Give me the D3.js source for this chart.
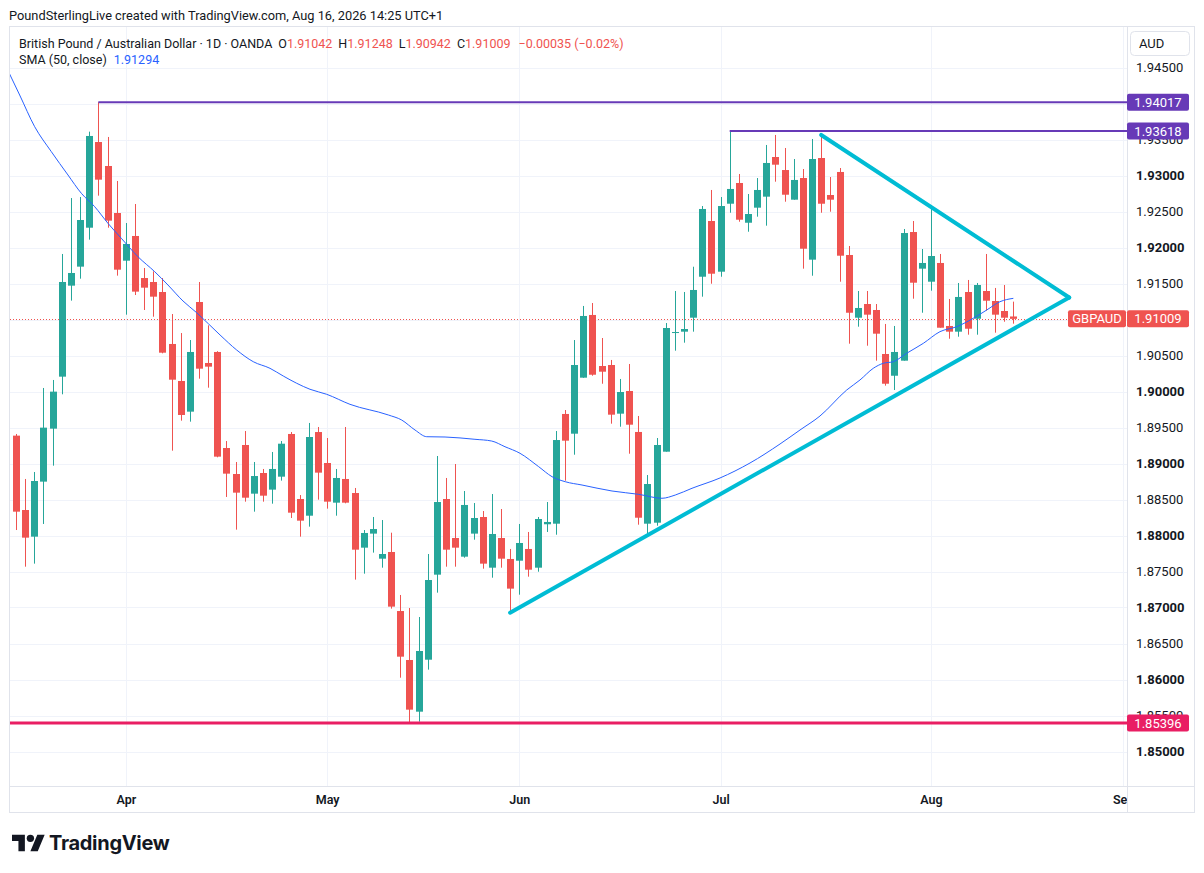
<!DOCTYPE html>
<html><head><meta charset="utf-8">
<script src="https://cdn.jsdelivr.net/npm/d3@7"></script>
<style>
html,body{margin:0;padding:0;background:#fff;}
svg{display:block;font-family:Roboto,"Noto Sans",sans-serif;}
</style></head><body>
<svg id="chart" width="1204" height="873"></svg>
<script>
// ---------- DATA ----------
const opens = [1.89387,1.88354,1.87984,1.88748,1.89484,1.90206,1.91470,1.91734,1.92275,1.93465,
1.93132,1.92479,1.91817,1.92160,1.91576,1.91521,1.91382,1.90660,1.90146,1.89720,
1.91243,1.90396,1.90549,1.89215,1.88854,1.89257,1.88581,1.88868,1.88637,1.88817,
1.89410,1.88507,1.88275,1.89437,1.89007,1.88456,1.88785,1.88590,1.87831,1.88026,
1.87678,1.87771,1.86951,1.86271,1.85553,1.86275,1.87456,1.88507,1.87965,1.87706,
1.88026,1.88257,1.87553,1.87965,1.87674,1.87650,1.87813,1.87553,1.88156,1.88164,
1.89688,1.89414,1.90192,1.91063,1.90354,1.90368,1.89692,1.90007,1.89438,1.88164,
1.88178,1.89164,1.90817,1.90831,1.91025,1.91594,1.92368,1.91664,1.92608,1.92896,
1.92344,1.92553,1.92706,1.93257,1.93076,1.92664,1.92965,1.91831,1.93243,1.92729,
1.93049,1.91896,1.91025,1.91215,1.91132,1.90521,1.90219,1.90428,1.92215,1.91706,
1.91525,1.91785,1.90910,1.90831,1.91382,1.91011,1.91396,1.91257,1.91118,1.91042];
const highs = [1.89410,1.88785,1.88882,1.90049,1.90160,1.91910,1.92687,1.92701,1.93609,1.94017,
1.93535,1.92924,1.92340,1.92604,1.91715,1.91669,1.91576,1.91076,1.90812,1.90715,
1.91521,1.90919,1.90560,1.89312,1.89021,1.89451,1.89021,1.88924,1.89160,1.89312,
1.89437,1.88562,1.89563,1.89507,1.89354,1.88924,1.89507,1.88660,1.88076,1.88257,
1.88215,1.88039,1.87174,1.86993,1.86868,1.87743,1.89104,1.88799,1.88993,1.88618,
1.88451,1.88340,1.88576,1.88368,1.87813,1.88160,1.88049,1.88257,1.88465,1.89451,
1.89743,1.90715,1.91188,1.91229,1.90743,1.90438,1.90174,1.90382,1.89660,1.88840,
1.89354,1.90951,1.91396,1.91382,1.91733,1.92576,1.92799,1.92701,1.93618,1.93021,
1.92743,1.92965,1.93424,1.93563,1.93382,1.93229,1.93090,1.93507,1.93563,1.92979,
1.93104,1.92021,1.91396,1.91396,1.91215,1.90938,1.90910,1.92257,1.92368,1.91979,
1.92590,1.91910,1.91285,1.91507,1.91549,1.91507,1.91910,1.91438,1.91479,1.91248];
const lows = [1.88076,1.87567,1.87609,1.88160,1.88970,1.89961,1.91262,1.91567,1.92109,1.92720,
1.92275,1.91609,1.91067,1.91340,1.91132,1.91039,1.90530,1.89178,1.89595,1.89581,
1.90178,1.90053,1.89086,1.88535,1.88081,1.88470,1.88331,1.88470,1.88442,1.88762,
1.88243,1.87984,1.88123,1.88498,1.88373,1.88275,1.88447,1.87387,1.87470,1.87762,
1.87553,1.86984,1.86025,1.85396,1.85414,1.86137,1.87206,1.87567,1.87567,1.87692,
1.87942,1.87539,1.87414,1.87553,1.86928,1.87178,1.87428,1.87497,1.88049,1.88011,
1.88761,1.89122,1.90190,1.90219,1.90108,1.89553,1.89511,1.89136,1.88150,1.88007,
1.88136,1.89164,1.90567,1.90678,1.90831,1.91317,1.91497,1.91594,1.92483,1.92358,
1.92219,1.92428,1.92303,1.92914,1.92636,1.92664,1.91706,1.91608,1.92483,1.92497,
1.91525,1.90664,1.90900,1.90636,1.90428,1.90081,1.90021,1.90428,1.91289,1.91094,
1.91400,1.90886,1.90733,1.90761,1.90789,1.90789,1.91122,1.90817,1.90969,1.90942];
const closes = [1.88331,1.87970,1.88757,1.89498,1.89998,1.91521,1.91646,1.92382,1.93549,1.92942,
1.92373,1.91692,1.92049,1.91387,1.91442,1.91317,1.90539,1.90164,1.89674,1.90549,
1.90317,1.90345,1.89095,1.88859,1.88595,1.88525,1.88826,1.88553,1.88924,1.89275,
1.88317,1.88206,1.89368,1.88873,1.88470,1.88799,1.88456,1.87803,1.88035,1.88090,
1.87743,1.87012,1.86317,1.85581,1.86396,1.87382,1.88465,1.87803,1.87831,1.88424,
1.88243,1.87609,1.88021,1.87678,1.87262,1.87896,1.87525,1.88229,1.88188,1.89326,
1.89317,1.90368,1.91049,1.90233,1.90275,1.89678,1.89993,1.89539,1.88247,1.88715,
1.89257,1.90882,1.90826,1.90868,1.91410,1.92535,1.91636,1.92576,1.92813,1.92386,
1.92465,1.92799,1.93174,1.93150,1.92733,1.92938,1.91983,1.93229,1.92608,1.92664,
1.91886,1.91094,1.91160,1.91067,1.90803,1.90108,1.90549,1.92201,1.91511,1.91785,
1.91882,1.90886,1.90831,1.91313,1.90872,1.91479,1.91261,1.91067,1.91025,1.91009];

// SMA(50, close) at bar positions
const smaBars = [-0.7,0.4,2.04,3.86,5.68,7.14,8.6,10.05,11.51,13.33,15.16,16.61,18.25,19.75,22.3,24.12,25.93,27.76,29.21,30.68,32.13,33.96,36.5,40.69,42.15,43.61,44.89,46.89,50.16,51.99,53.44,55.08,57.12,58.58,60.03,61.86,65.14,68.05,70.6,72.05,73.88,76.94,80.22,83.5,85.68,87.87,90.79,92.24,93.69,94.79,95.88,97.34,99.16,100.98,102.81,104.62,106.09,107.54,109];
const smaValues = [1.94410,1.94118,1.93678,1.93331,1.93007,1.92753,1.92567,1.92336,1.92128,1.91872,1.91664,1.91479,1.91257,1.91094,1.90785,1.90576,1.90414,1.90322,1.90215,1.90114,1.90031,1.89961,1.89822,1.89674,1.89604,1.89465,1.89372,1.89368,1.89336,1.89312,1.89233,1.89142,1.88956,1.88817,1.88747,1.88701,1.88618,1.88572,1.88517,1.88562,1.88656,1.88799,1.89007,1.89271,1.89465,1.89660,1.90021,1.90160,1.90322,1.90392,1.90414,1.90531,1.90669,1.90831,1.90900,1.91017,1.91132,1.91247,1.91294];

const monthTickBars = [12,34,55,77,100,121];
const monthTickLabels = ["Apr","May","Jun","Jul","Aug","Sep"];
const priceTicks = [1.850,1.855,1.860,1.865,1.870,1.875,1.880,1.885,1.890,1.895,1.900,1.905,1.910,1.915,1.920,1.925,1.930,1.935,1.940,1.945];

const hLevels = [ // horizontal lines: [startBar, price]
  {bar:9, price:1.94017, color:"#673ab7", width:2},
  {bar:78, price:1.93618, color:"#673ab7", width:2},
  {bar:-1, price:1.85396, color:"#e91e63", width:3}
];
const triUpper = [[88,1.93563],[115.1,1.91305]];
const triLower = [[54,1.86928],[115.1,1.91305]];
const lastClose = 1.91009;
const priceChange = -0.00035;
const pctChange = -0.02;
const smaLast = 1.91294;

// ---------- LAYOUT ----------
const L=10, R=1127, T=27, B=786, FR=1194, FB=812;
const up="#26a69a", dn="#ef5350", txt="#131722";
const svg = d3.select("#chart");
const x = d3.scaleLinear().domain([0,109]).range([16, 16+109*9.15]);
const y = d3.scaleLinear().domain([1.85,1.945]).range([751.5,67.5]);

const defs = svg.append("defs");
defs.append("clipPath").attr("id","plot").append("rect").attr("x",L).attr("y",T).attr("width",R-L).attr("height",B-T);
defs.append("clipPath").attr("id","taxis").append("rect").attr("x",L).attr("y",B).attr("width",R-L).attr("height",FB-B);

// header
svg.append("text").attr("x",9).attr("y",20).attr("font-size",12.8).attr("fill",txt)
  .text("PoundSterlingLive created with TradingView.com, Aug 16, 2026 14:25 UTC+1");

// grid
const grid = svg.append("g").attr("clip-path","url(#plot)");
grid.selectAll("line.h").data(priceTicks).join("line").attr("class","h")
  .attr("x1",L).attr("x2",R).attr("y1",d=>Math.round(y(d))+0.5).attr("y2",d=>Math.round(y(d))+0.5)
  .attr("stroke","#f0f3fa").attr("stroke-width",1);
grid.selectAll("line.v").data(monthTickBars).join("line").attr("class","v")
  .attr("y1",T).attr("y2",B).attr("x1",d=>Math.round(x(d))+0.5).attr("x2",d=>Math.round(x(d))+0.5)
  .attr("stroke","#f0f3fa").attr("stroke-width",1);

// frame
svg.append("rect").attr("x",9.5).attr("y",26.5).attr("width",FR-9).attr("height",FB-26)
  .attr("fill","none").attr("stroke","#e0e3eb");
svg.append("line").attr("x1",R+0.5).attr("x2",R+0.5).attr("y1",T).attr("y2",FB).attr("stroke","#e0e3eb");
svg.append("line").attr("x1",L).attr("x2",FR).attr("y1",B+0.5).attr("y2",B+0.5).attr("stroke","#e0e3eb");

const plot = svg.append("g").attr("clip-path","url(#plot)");

// last price dotted line
plot.append("line").attr("x1",L).attr("x2",1068).attr("y1",Math.round(y(lastClose))+0.5).attr("y2",Math.round(y(lastClose))+0.5)
  .attr("stroke",dn).attr("stroke-width",1).attr("stroke-dasharray","1,2");

// candles
const idx = d3.range(opens.length);
const cg = plot.append("g");
cg.selectAll("line.w").data(idx).join("line").attr("class","w")
  .attr("x1",i=>Math.round(x(i))+0.5).attr("x2",i=>Math.round(x(i))+0.5)
  .attr("y1",i=>y(highs[i])).attr("y2",i=>y(lows[i]))
  .attr("stroke",i=>closes[i]>=opens[i]?up:dn).attr("stroke-width",1);
cg.selectAll("rect").data(idx).join("rect")
  .attr("x",i=>Math.round(x(i))-3).attr("width",7)
  .attr("y",i=>Math.min(y(opens[i]),y(closes[i])))
  .attr("height",i=>Math.max(1,Math.abs(y(opens[i])-y(closes[i]))))
  .attr("fill",i=>closes[i]>=opens[i]?up:dn);

// SMA
plot.append("path").datum(d3.zip(smaBars,smaValues))
  .attr("d",d3.line().x(d=>x(d[0])).y(d=>y(d[1])).curve(d3.curveMonotoneX))
  .attr("fill","none").attr("stroke","#2962ff").attr("stroke-width",1);

// horizontal levels
plot.selectAll("line.lvl").data(hLevels).join("line").attr("class","lvl")
  .attr("x1",d=>d.bar<0?L:x(d.bar)).attr("x2",R)
  .attr("y1",d=>y(d.price)).attr("y2",d=>y(d.price))
  .attr("stroke",d=>d.color).attr("stroke-width",d=>d.width);

// triangle
const tl = d3.line().x(d=>x(d[0])).y(d=>y(d[1]));
[triUpper,triLower].forEach(seg=>{
  plot.append("path").attr("d",tl(seg)).attr("fill","none").attr("stroke","#00bcd4")
    .attr("stroke-width",4).attr("stroke-linecap","round");
});

// price axis (labels fully hidden under the value boxes are not drawn, as in the reference)
const boxPrices = hLevels.map(d=>d.price).concat([lastClose]);
const shownTicks = priceTicks.filter(p=>!boxPrices.some(b=>Math.abs(y(b)-y(p))<3));
const ya = d3.axisRight(y).tickValues(shownTicks).tickSize(0).tickPadding(0).tickFormat(d3.format(".5f"));
const yg = svg.append("g").attr("transform","translate(1136,0)").call(ya);
yg.select(".domain").remove();
yg.selectAll("text").attr("font-family","Roboto,'Noto Sans',sans-serif").attr("font-size",13).attr("fill",txt)
  .attr("font-weight",d=>Math.abs(Math.round(d*100)-d*100)<1e-6?700:400);

// time axis
const xa = d3.axisBottom(x).tickValues(monthTickBars).tickSize(0).tickPadding(9)
  .tickFormat((d,i)=>monthTickLabels[i]);
const xwrap = svg.append("g").attr("clip-path","url(#taxis)");
const xg = xwrap.append("g").attr("transform",`translate(0,${B})`).call(xa);
xg.select(".domain").remove();
xg.selectAll("text").attr("font-family","Roboto,'Noto Sans',sans-serif").attr("font-size",12.5).attr("font-weight",600).attr("fill",txt);

// axis price labels
function priceLabel(price,color,x0,w,label){
  const yy=y(price);
  svg.append("rect").attr("x",x0).attr("y",yy-8.5).attr("width",w).attr("height",17).attr("rx",2).attr("fill",color);
  svg.append("text").attr("x",x0+w/2).attr("y",yy).attr("dy","0.35em").attr("text-anchor","middle")
    .attr("font-size",13).attr("fill","#fff").text(label);
}
hLevels.forEach(d=>priceLabel(d.price,d.color,R,62,d3.format(".5f")(d.price)));
priceLabel(lastClose,"#ef5350",1068,58,"GBPAUD");
priceLabel(lastClose,"#ef5350",R,62,d3.format(".5f")(lastClose));

// AUD button
svg.append("rect").attr("x",1130.5).attr("y",31.5).attr("width",59).attr("height",24).attr("rx",4)
  .attr("fill","#fff").attr("stroke","#e0e3eb");
svg.append("text").attr("x",1139).attr("y",48).attr("font-size",13).attr("fill",txt).text("AUD");

// legend
const lg = svg.append("text").attr("x",19).attr("y",47.5).attr("font-size",12.5).attr("fill",txt);
lg.append("tspan").text("British Pound / Australian Dollar · 1D · OANDA");
const f5 = d3.format(".5f");
const last = opens.length-1;
[["O",opens[last]],["H",highs[last]],["L",lows[last]],["C",closes[last]]].forEach(([k,v])=>{
  lg.append("tspan").attr("dx",6).text(k);
  lg.append("tspan").attr("fill",dn).text(f5(v));
});
lg.append("tspan").attr("dx",8).attr("fill",dn)
  .text("\u2212"+f5(Math.abs(priceChange))+" (\u2212"+Math.abs(pctChange).toFixed(2)+"%)");
const lg2 = svg.append("text").attr("x",19).attr("y",63.5).attr("font-size",12.5).attr("fill",txt);
lg2.append("tspan").text("SMA (50, close)");
lg2.append("tspan").attr("dx",7).attr("fill","#2962ff").text(f5(smaLast));

// TradingView logo
const logo = svg.append("g").attr("transform","translate(12,831) scale(0.92)").attr("fill",txt);
logo.append("path").attr("d","M14 22H7V11H0V4h14v18zM28 22h-8l7.5-18h8L28 22z");
logo.append("circle").attr("cx",20).attr("cy",8).attr("r",4);
svg.append("text").attr("x",49).attr("y",850).attr("font-family","Inter,Roboto,sans-serif")
  .attr("font-size",20).attr("font-weight",700).attr("fill",txt).attr("letter-spacing",-0.3).text("TradingView");
</script>
</body></html>
